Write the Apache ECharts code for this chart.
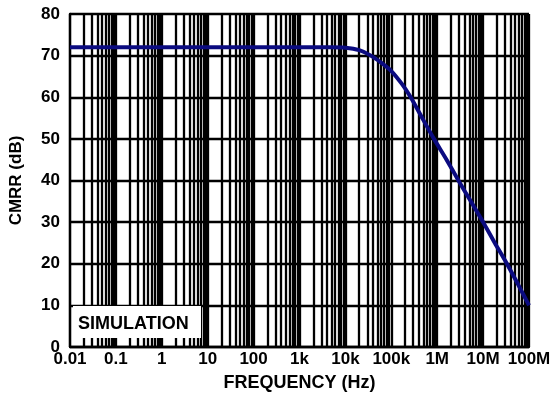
<!DOCTYPE html>
<html>
<head>
<meta charset="utf-8">
<script src="https://cdn.jsdelivr.net/npm/echarts@6/dist/echarts.min.js"></script>
<style>
  html, body { margin: 0; padding: 0; background: #fff; }
  #chart { width: 554px; height: 400px; }
</style>
</head>
<body>
<div id="chart"></div>
<script>
// values
const freq = [0.01, 0.1, 1, 10, 100, 1e3, 5e3, 1e4, 2e4, 3.6e4, 6e4, 1e5, 1.7e5, 2.65e5, 5e5, 8.5e5, 1.6e6, 2.9e6, 5.4e6, 1e7, 1.8e7, 3.3e7, 5.8e7, 1e8]
const cmrr = [72, 72, 72, 72, 72, 72, 72, 71.9, 71.3, 70, 68.3, 66.3, 63.2, 60, 54.5, 50, 45, 40, 35, 30, 25, 20, 15, 10]

const freqLabels = ['0.01', '0.1', '1', '10', '100', '1k', '10k', '100k', '1M', '10M', '100M']
const yTicks = [0, 10, 20, 30, 40, 50, 60, 70, 80]

const font = 'Liberation Sans, Arial, sans-serif'
const gridW = 2.3

// log grid: 2..9 in every decade
const minorLines = []
for (let d = -2; d < 8; d++) {
  for (let m = 2; m <= 9; m++) {
    minorLines.push({ xAxis: m * Math.pow(10, d) })
  }
}

const chart = echarts.init(document.getElementById('chart'))

chart.setOption({
  animation: false,
  grid: {
    left: 67,
    right: 25,
    top: 14,
    bottom: 53
  },
  xAxis: {
    type: 'log',
    logBase: 10,
    min: 0.01,
    max: 1e8,
    interval: 1,
    name: 'FREQUENCY (Hz)',
    nameLocation: 'middle',
    nameGap: 27,
    nameTextStyle: { fontFamily: font, fontWeight: 'bold', fontSize: 18, color: '#000' },
    axisLine: { show: true, lineStyle: { color: '#000', width: gridW } },
    axisTick: { show: false },
    axisLabel: {
      interval: 0,
      hideOverlap: false,
      showMinLabel: true,
      showMaxLabel: true,
      margin: 4,
      fontFamily: font,
      fontWeight: 'bold',
      fontSize: 17,
      color: '#000',
      formatter: v => freqLabels[Math.round(Math.log10(v)) + 2]
    },
    splitLine: { show: true, lineStyle: { color: '#000', width: gridW } }
  },
  yAxis: {
    type: 'value',
    min: 0,
    max: 80,
    interval: 10,
    name: 'CMRR (dB)',
    nameLocation: 'middle',
    nameGap: 45,
    nameTextStyle: { fontFamily: font, fontWeight: 'bold', fontSize: 17, color: '#000' },
    axisLine: { show: true, lineStyle: { color: '#000', width: gridW } },
    axisTick: { show: false },
    axisLabel: {
      margin: 10,
      fontFamily: font,
      fontWeight: 'bold',
      fontSize: 17,
      color: '#000',
      formatter: v => yTicks.indexOf(v) >= 0 ? String(v) : ''
    },
    splitLine: { show: true, lineStyle: { color: '#000', width: gridW } }
  },
  graphic: [{
    type: 'rect',
    left: 73,
    top: 306,
    shape: { width: 128, height: 32 },
    style: { fill: '#fff' },
    z: 50
  }, {
    type: 'text',
    left: 78,
    top: 315,
    style: {
      text: 'SIMULATION',
      fill: '#000',
      font: 'bold 18px Liberation Sans, Arial, sans-serif'
    },
    z: 51
  }],
  series: [{
    type: 'line',
    data: [],
    z: 1,
    silent: true,
    markLine: {
      silent: true,
      symbol: 'none',
      label: { show: false },
      lineStyle: { color: '#000', width: gridW, type: 'solid' },
      data: minorLines,
      animation: false
    }
  }, {
    type: 'line',
    data: freq.map((f, i) => [f, cmrr[i]]),
    smooth: 0.2,
    showSymbol: false,
    z: 10,
    lineStyle: { color: '#0b0b80', width: 4 }
  }]
})
</script>
</body>
</html>
